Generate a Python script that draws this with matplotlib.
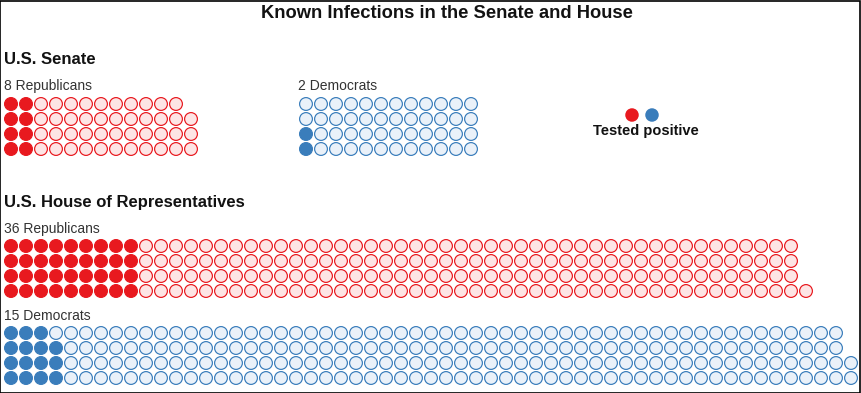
import matplotlib
matplotlib.use("Agg")
import matplotlib.pyplot as plt
from matplotlib.patches import Rectangle

# seat counts and known positive cases
senate_rep_seats = 51
senate_rep_pos = 8
senate_dem_seats = 48
senate_dem_pos = 2
house_rep_seats = 213
house_rep_pos = 36
house_dem_seats = 226
house_dem_pos = 15

title = "Known Infections in the Senate and House"
legend_label = "Tested positive"

RED = "#e8191f"
RED_LIGHT = "#fde5e5"
BLUE = "#3a7dbb"
BLUE_LIGHT = "#eaf1f9"

W, H = 862, 393
ROWS = 4
STEP = 15
DIAM_PX = 12.8
LW_PX = 1.2
PT = 72 / 100  # points per pixel at dpi 100

plt.rcParams['font.family'] = ['Liberation Sans', 'DejaVu Sans']

fig = plt.figure(figsize=(W / 100, H / 100), dpi=100)
ax = fig.add_axes([0, 0, 1, 1])
ax.set_xlim(0, W)
ax.set_ylim(H, 0)
ax.axis('off')


def waffle(x0, y0, seats, positive, color, light):
    # column-major fill, bottom row first
    xs, ys, fc = [], [], []
    for i in range(seats):
        col = i // ROWS
        row = ROWS - 1 - (i % ROWS)
        xs.append(x0 + col * STEP)
        ys.append(y0 + row * STEP)
        fc.append(color if i < positive else light)
    ax.scatter(xs, ys, s=(DIAM_PX * PT) ** 2, c=fc, edgecolors=color,
               linewidths=LW_PX * PT, zorder=3)


head = dict(fontsize=12, fontweight='bold', color='#121212', va='center')
lab = dict(fontsize=10, color='#333333', va='center')

ax.text(W / 2 + 16, 13, title, ha='center', fontsize=13.2, fontweight='bold',
        color='#121212', va='center')

# Senate
ax.text(4, 60, "U.S. Senate", ha='left', **head)
ax.text(4, 86, f"{senate_rep_pos} Republicans", ha='left', **lab)
waffle(11, 104, senate_rep_seats, senate_rep_pos, RED, RED_LIGHT)
ax.text(298, 86, f"{senate_dem_pos} Democrats", ha='left', **lab)
waffle(306, 104, senate_dem_seats, senate_dem_pos, BLUE, BLUE_LIGHT)

# legend
ax.scatter([632, 652], [115, 115], s=(13.5 * PT) ** 2, c=[RED, BLUE],
           edgecolors='none', zorder=3)
ax.text(646, 131, legend_label, ha='center', fontsize=10.5,
        fontweight='bold', color='#121212', va='center')

# House
ax.text(4, 202, "U.S. House of Representatives", ha='left', **head)
ax.text(4, 229, f"{house_rep_pos} Republicans", ha='left', **lab)
waffle(11, 246, house_rep_seats, house_rep_pos, RED, RED_LIGHT)
ax.text(4, 316, f"{house_dem_pos} Democrats", ha='left', **lab)
waffle(11, 333, house_dem_seats, house_dem_pos, BLUE, BLUE_LIGHT)

# frame around the graphic
fig.patches.append(Rectangle((0.5 / W, 0.5 / H), (W - 2.5) / W, (H - 1.5) / H,
                             transform=fig.transFigure, fill=False,
                             edgecolor='black', linewidth=1.2))

fig.savefig("out.png", dpi=100)
